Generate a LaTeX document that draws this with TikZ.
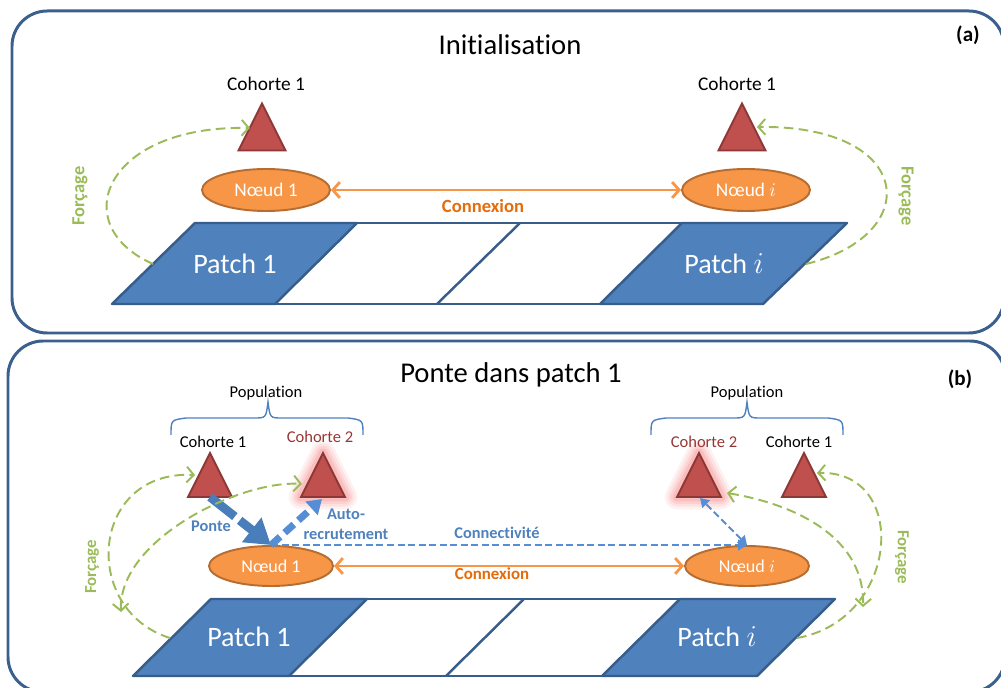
\documentclass[tikz,border=0pt]{standalone}
\usepackage{fontspec}
\setmainfont{Carlito}[Ligatures=NoCommon]
\usetikzlibrary{arrows.meta,shapes.geometric,calc}
\definecolor{framec}{RGB}{60,96,142}
\definecolor{patchfill}{RGB}{79,129,189}
\definecolor{patchline}{RGB}{56,93,138}
\definecolor{trifill}{RGB}{192,80,77}
\definecolor{triline}{RGB}{140,56,54}
\definecolor{nodefill}{RGB}{247,150,70}
\definecolor{nodeline}{RGB}{182,109,49}
\definecolor{forc}{RGB}{155,187,89}
\definecolor{orangetxt}{RGB}{228,108,10}
\definecolor{bluetxt}{RGB}{79,129,189}
\definecolor{arrowblue}{RGB}{74,126,187}
\definecolor{lightblue}{RGB}{85,142,213}
\definecolor{redtxt}{RGB}{149,55,53}
\definecolor{glowc}{RGB}{245,120,120}
\tikzset{
  panel/.style={draw=framec, line width=1.7pt, rounded corners=20pt},
  patchst/.style={fill=patchfill, draw=patchline, line width=1.4pt, line join=round},
  patchedge/.style={draw=patchline, line width=1.4pt},
  tristyle/.style={fill=trifill, draw=triline, line width=1.1pt, line join=miter},
  noeud/.style={ellipse, fill=nodefill, draw=nodeline, line width=1.1pt, text=white, inner sep=0pt},
  conn/.style={draw=nodefill, line width=1.6pt, {Straight Barb[length=4pt,width=9pt]}-{Straight Barb[length=4pt,width=9pt]}},
  forcarrow/.style={draw=forc, line width=1.1pt, dash pattern=on 5.5pt off 3pt, -{Straight Barb[length=4pt,width=9pt]}},
  forcboth/.style={draw=forc, line width=1.1pt, dash pattern=on 5.5pt off 3pt, {Straight Barb[length=4pt,width=9pt]}-{Straight Barb[length=4pt,width=9pt]}},
  forclabel/.style={text=forc, font=\bfseries\fontsize{10.5}{12}\selectfont},
  title/.style={font=\fontsize{16.3}{19}\selectfont, anchor=base},
  tag/.style={font=\bfseries\fontsize{12}{14}\selectfont, anchor=base},
  cohA/.style={font=\fontsize{11}{13}\selectfont, anchor=base},
  cohB/.style={font=\fontsize{9.4}{11}\selectfont, anchor=base},
  patchtxt/.style={text=white, font=\fontsize{16}{19}\selectfont, anchor=base},
  conntxtA/.style={text=orangetxt, font=\bfseries\fontsize{10.6}{12}\selectfont, anchor=base},
  conntxtB/.style={text=orangetxt, font=\bfseries\fontsize{9.6}{11}\selectfont, anchor=base},
  bluelabel/.style={text=bluetxt, font=\bfseries\fontsize{9.3}{11}\selectfont, anchor=base},
  bracest/.style={draw=bluetxt, line width=0.8pt},
}
\newcommand\drawtri[2]{\draw[tristyle] ($(#1)+(0,-#2)$) -- ($(#1)+(#2,#2)$) -- ($(#1)+(-#2,#2)$) -- cycle;}
\newcommand\drawglow[2]{\foreach \w/\o in {14/0.10,11/0.12,8/0.16,5/0.22}{\draw[line width=\w pt, glowc, opacity=\o, line join=round] ($(#1)+(0,-#2)$) -- ($(#1)+(#2,#2)$) -- ($(#1)+(-#2,#2)$) -- cycle;}}
\begin{document}
\begin{tikzpicture}[x=0.02cm, y=-0.02cm]
\useasboundingbox (0,0) rectangle (1001,688);
\begin{scope}
\clip (0,0) rectangle (1001,688);
% ---------- frames
\draw[panel] (12,11) rectangle (1004,333);
\draw[panel] (8,341) rectangle (1005,692);

% ================= PANEL (a)
\node[title] (ta) at (510,55) {Initialisation};
\node[tag] (taga) at (968,42) {(a)};

% patches
\draw[patchst] (195,223) -- (357,223) -- (275,304) -- (112,304) -- cycle;
\draw[patchst] (682,223) -- (847,223) -- (763,304) -- (600,304) -- cycle;
\draw[patchedge] (357,223) -- (682,223);
\draw[patchedge] (275,304) -- (600,304);
\draw[patchedge] (520,223) -- (437,304);
\node[patchtxt] (p1a) at (235,274) {Patch 1};
\node[patchtxt] (pia) at (724,274) {Patch $i$};

% cohorts
\coordinate (c1a) at (262,127);
\coordinate (cia) at (742,127);
\drawtri{c1a}{23.5}
\drawtri{cia}{23.5}
\node[cohA] (lc1a) at (266,91) {Cohorte 1};
\node[cohA] (lcia) at (737,91) {Cohorte 1};

% nodes
\node[noeud, minimum width=2.56cm, minimum height=0.84cm, font=\fontsize{11}{13}\selectfont] (n1a) at (266,190) {Nœud 1};
\node[noeud, minimum width=2.56cm, minimum height=0.84cm, font=\fontsize{11}{13}\selectfont] (nia) at (746,190) {Nœud $i$};
\draw[conn] (n1a.east) -- (nia.west);
\node[conntxtA] (cxa) at (483,213) {Connexion};

% forcage
\coordinate (fa1s) at (153,264);
\coordinate (fa1e) at (250,128);
\coordinate (fais) at (806,264);
\coordinate (faie) at (757,127);
\draw[forcarrow] (fa1s) .. controls (65,225) and (105,125) .. (fa1e);
\draw[forcarrow] (fais) .. controls (925,235) and (915,125) .. (faie);
\node[forclabel, rotate=90] (fla1) at (80,196) {Forçage};
\node[forclabel, rotate=-90] (flai) at (906,196) {Forçage};

% ================= PANEL (b)
\node[title] (tb) at (511,383) {Ponte dans patch 1};
\node[tag] (tagb) at (960,386) {(b)};

% patches
\draw[patchst] (211,599) -- (367,599) -- (289,676) -- (133,676) -- cycle;
\draw[patchst] (680,599) -- (835,599) -- (757,676) -- (602,676) -- cycle;
\draw[patchedge] (367,599) -- (680,599);
\draw[patchedge] (289,676) -- (602,676);
\draw[patchedge] (524,599) -- (446,676);
\node[patchtxt] (p1b) at (249,647) {Patch 1};
\node[patchtxt] (pib) at (717,647) {Patch $i$};

% braces and population
\draw[bracest] (171,435) .. controls (171,420) .. (186,418) -- (254,418) .. controls (266,418) .. (268,402) .. controls (270,418) .. (282,418) -- (348,418) .. controls (363,420) .. (363,435);
\draw[bracest] (651,435) .. controls (651,420) .. (666,418) -- (733,418) .. controls (745,418) .. (747,402) .. controls (749,418) .. (761,418) -- (828,418) .. controls (843,420) .. (843,435);
\node[cohB] (pop1) at (266,398) {Population};
\node[cohB] (pop2) at (747,398) {Population};

% cohorts
\coordinate (c1b) at (210,475);
\coordinate (c2b) at (323,475);
\coordinate (c2ib) at (699,475);
\coordinate (c1ib) at (804,475);
\drawglow{c2b}{22}
\drawglow{c2ib}{22}
\drawtri{c1b}{22}
\drawtri{c2b}{22}
\drawtri{c2ib}{22}
\drawtri{c1ib}{22}
\node[cohB] (lc1b) at (213,448) {Cohorte 1};
\node[cohB, text=redtxt] (lc2b) at (320,443) {Cohorte 2};
\node[cohB, text=redtxt] (lc2ib) at (704,448) {Cohorte 2};
\node[cohB] (lc1ib) at (799,448) {Cohorte 1};

% nodes
\node[noeud, minimum width=2.48cm, minimum height=0.80cm, font=\fontsize{10.3}{12}\selectfont] (n1b) at (271,566) {Nœud 1};
\node[noeud, minimum width=2.48cm, minimum height=0.80cm, font=\fontsize{10.3}{12}\selectfont] (nib) at (747,566) {Nœud $i$};
\draw[conn] (n1b.east) -- (nib.west);
\node[conntxtB] (cxb) at (492,580) {Connexion};

% connectivity
\coordinate (ponteS) at (210,497);
\coordinate (autoE) at (322,499);
\coordinate (c2ibB) at (700,498);
\draw[draw=lightblue, line width=1.1pt, dash pattern=on 4pt off 2pt, -{Triangle[length=5pt,width=6pt]}] (n1b.north) -- (nib.north);
\draw[draw=lightblue, line width=1.1pt, dash pattern=on 4pt off 2pt, {Triangle[length=5pt,width=6pt]}-{Triangle[length=5pt,width=6pt]}] (nib.north) -- (c2ibB);
\node[bluelabel] (lconn) at (497,539) {Connectivité};

% ponte / auto-recrutement
\draw[draw=arrowblue, line width=5pt, dash pattern=on 18pt off 3.5pt, -{Triangle[length=14pt,width=17pt]}] (ponteS) -- (n1b.north);
\draw[draw=lightblue, line width=4pt, dash pattern=on 7pt off 3.5pt, -{Triangle[length=8pt,width=10pt]}] (n1b.north) -- (autoE);
\node[bluelabel] (lponte) at (211,532) {Ponte};
\node[bluelabel, align=center, anchor=base] (lauto) at (346,540) {Auto-\\[0.8pt]recrutement};

% forcage
\coordinate (fb1s) at (170,638);
\coordinate (fb1e) at (195,475);
\coordinate (fb2s) at (121,612);
\coordinate (fb2e) at (302,484);
\coordinate (fbis) at (797,638);
\coordinate (fbie) at (817,473);
\coordinate (fbi2s) at (727,493);
\coordinate (fbi2e) at (863,607);
\draw[forcarrow] (fb1s) .. controls (80,610) and (90,470) .. (fb1e);
\draw[forcboth] (fb2s) .. controls (118,540) and (240,480) .. (fb2e);
\draw[forcarrow] (fbis) .. controls (900,620) and (910,470) .. (fbie);
\draw[forcboth] (fbi2s) .. controls (800,505) and (865,540) .. (fbi2e);
\node[forclabel, rotate=90, font=\bfseries\fontsize{9.6}{11}\selectfont] (flb1) at (92,567) {Forçage};
\node[forclabel, rotate=-90, font=\bfseries\fontsize{9.6}{11}\selectfont] (flbi) at (902,557) {Forçage};
\end{scope}
\end{tikzpicture}
\end{document}
